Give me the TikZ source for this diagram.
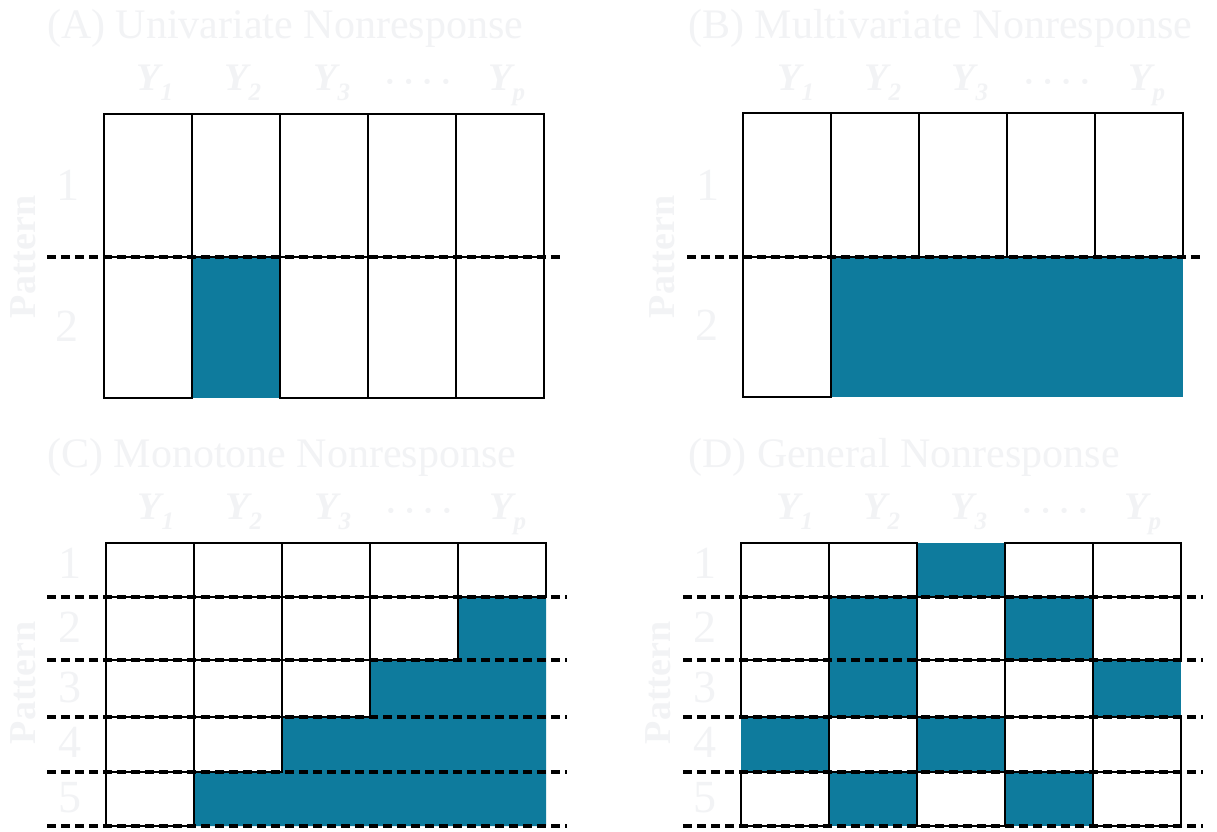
\documentclass[tikz,border=0pt]{standalone}
\usepackage{fontspec}
\setmainfont{Liberation Serif}
\definecolor{nrfill}{RGB}{14,123,157}
\definecolor{lbl}{RGB}{242,243,245}
\tikzset{
  cell/.style={draw=black, fill=white, line width=2pt},
  miss/.style={fill=nrfill},
  sep/.style={draw=black, line width=3.5pt, dash pattern=on 9pt off 5pt},
  ttl/.style={text=lbl, font=\fontsize{42}{48}\selectfont, anchor=base west, inner sep=0pt},
  ylab/.style={text=lbl, font=\bfseries\itshape\fontsize{39}{40}\selectfont, anchor=base, inner sep=0pt},
  dotlab/.style={text=lbl, font=\bfseries\fontsize{32}{36}\selectfont, anchor=base, inner sep=0pt},
  rowlab/.style={text=lbl, font=\fontsize{46}{50}\selectfont, inner sep=0pt},
  patlab/.style={text=lbl, font=\bfseries\fontsize{38}{40}\selectfont, rotate=90, inner sep=0pt},
}
\newcommand\Ysb[1]{Y\raisebox{-10pt}{\fontsize{25}{25}\selectfont #1}}
\begin{document}
\begin{tikzpicture}[x=1pt,y=-1pt]
\useasboundingbox (0,0) rectangle (1217,831);
\fill[white] (0,0) rectangle (1217,831);

% ---------- Panel A ----------
\fill[miss] (192,257) rectangle ++(88,141);
\foreach \x in {104,192,280,368,456} \draw[cell] (\x,114) rectangle ++(88,143);
\foreach \x in {104,280,368,456} \draw[cell] (\x,257) rectangle ++(88,141);
\draw[sep] (47,257) -- (560,257);
\node[ttl] (tA) at (47,38) {(A) Univariate Nonresponse};
\node[ylab] (a1) at (155,90) {\Ysb{1}};
\node[ylab] (a2) at (243,90) {\Ysb{2}};
\node[ylab] (a3) at (332,90) {\Ysb{3}};
\node[dotlab] (ad) at (418,92) {· · · ·};
\node[ylab] (ap) at (507,90) {\Ysb{p}};
\node[rowlab] (ar1) at (68,185) {1};
\node[rowlab] (ar2) at (67,326) {2};
\node[patlab] (aP) at (23,257) {Pattern};

% ---------- Panel B ----------
\fill[miss] (831,257) rectangle (1183,397);
\foreach \x in {743,831,919,1007,1095} \draw[cell] (\x,113) rectangle ++(88,144);
\draw[cell] (743,257) rectangle ++(88,140);
\draw[sep] (687,257) -- (1202,257);
\node[ttl] (tB) at (688,38) {(B) Multivariate Nonresponse};
\node[ylab] (b1) at (796,90) {\Ysb{1}};
\node[ylab] (b2) at (883,90) {\Ysb{2}};
\node[ylab] (b3) at (970,90) {\Ysb{3}};
\node[dotlab] (bd) at (1057,92) {· · · ·};
\node[ylab] (bp) at (1147,90) {\Ysb{p}};
\node[rowlab] (br1) at (708,185) {1};
\node[rowlab] (br2) at (707,325) {2};
\node[patlab] (bP) at (662,257) {Pattern};

% ---------- Panel C ----------
\fill[miss] (458,597) -- (546,597) -- (546,826) -- (194,826) -- (194,772) -- (282,772)
  -- (282,717) -- (370,717) -- (370,660) -- (458,660) -- cycle;
\foreach \x in {106,194,282,370,458} \draw[cell] (\x,543) rectangle ++(88,54);
\foreach \x in {106,194,282,370} \draw[cell] (\x,597) rectangle ++(88,63);
\foreach \x in {106,194,282} \draw[cell] (\x,660) rectangle ++(88,57);
\foreach \x in {106,194} \draw[cell] (\x,717) rectangle ++(88,55);
\draw[cell] (106,772) rectangle ++(88,54);
\foreach \y in {597,660,717,772,826} \draw[sep] (47,\y) -- (567,\y);
\node[ttl] (tC) at (47,467) {(C) Monotone Nonresponse};
\node[ylab] (c1) at (156,519) {\Ysb{1}};
\node[ylab] (c2) at (244,519) {\Ysb{2}};
\node[ylab] (c3) at (333,519) {\Ysb{3}};
\node[dotlab] (cd) at (419,521) {· · · ·};
\node[ylab] (cp) at (508,519) {\Ysb{p}};
\node[rowlab] (cr1) at (70,563) {1};
\node[rowlab] (cr2) at (70,627) {2};
\node[rowlab] (cr3) at (70,687) {3};
\node[rowlab] (cr4) at (70,742) {4};
\node[rowlab] (cr5) at (70,798) {5};
\node[patlab] (cP) at (23,683) {Pattern};

% ---------- Panel D ----------
\fill[miss] (917,543) rectangle (1005,597);
\fill[miss] (829,597) rectangle (917,660);
\fill[miss] (1005,597) rectangle (1093,660);
\fill[miss] (829,660) rectangle (917,717);
\fill[miss] (1093,660) rectangle (1181,717);
\fill[miss] (741,717) rectangle (829,772);
\fill[miss] (917,717) rectangle (1005,772);
\fill[miss] (829,772) rectangle (917,826);
\fill[miss] (1005,772) rectangle (1093,826);
\foreach \x in {741,829,1005,1093} \draw[cell] (\x,543) rectangle ++(88,54);
\foreach \x in {741,917,1093} \draw[cell] (\x,597) rectangle ++(88,63);
\foreach \x in {741,917,1005} \draw[cell] (\x,660) rectangle ++(88,57);
\foreach \x in {829,1005,1093} \draw[cell] (\x,717) rectangle ++(88,55);
\foreach \x in {741,917,1093} \draw[cell] (\x,772) rectangle ++(88,54);
\foreach \y in {597,660,717,772,826} \draw[sep] (683,\y) -- (1203,\y);
\node[ttl] (tD) at (688,467) {(D) General Nonresponse};
\node[ylab] (d1) at (795,519) {\Ysb{1}};
\node[ylab] (d2) at (882,519) {\Ysb{2}};
\node[ylab] (d3) at (969,519) {\Ysb{3}};
\node[dotlab] (dd) at (1055,521) {· · · ·};
\node[ylab] (dp) at (1143,519) {\Ysb{p}};
\node[rowlab] (dr1) at (705,563) {1};
\node[rowlab] (dr2) at (705,627) {2};
\node[rowlab] (dr3) at (705,687) {3};
\node[rowlab] (dr4) at (705,742) {4};
\node[rowlab] (dr5) at (705,798) {5};
\node[patlab] (dP) at (658,683) {Pattern};
\end{tikzpicture}
\end{document}
